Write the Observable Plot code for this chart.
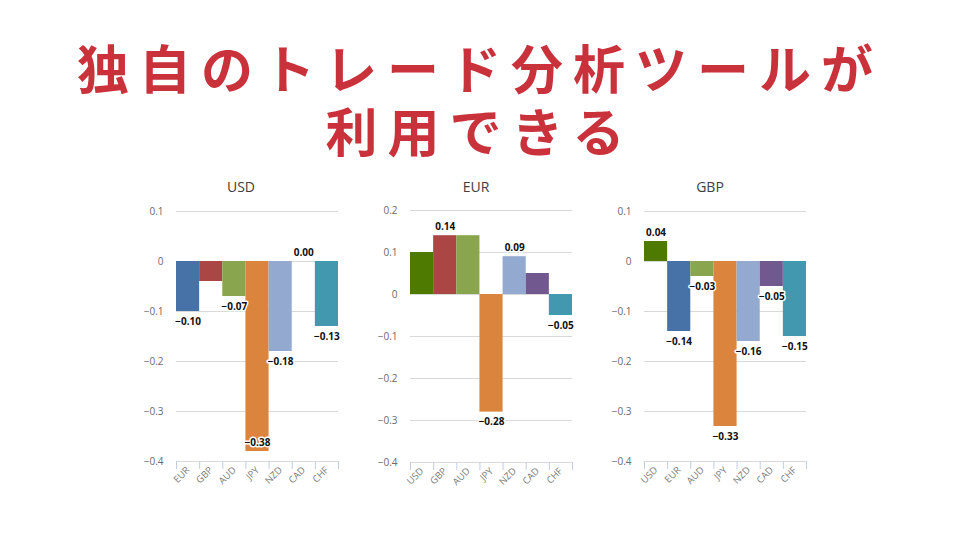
<!DOCTYPE html>
<html><head><meta charset="utf-8">
<script src="https://cdn.jsdelivr.net/npm/d3@7"></script>
<script src="https://cdn.jsdelivr.net/npm/@observablehq/plot@0.6"></script>
<style>
body{margin:0;width:960px;height:540px;background:#fff;position:relative;overflow:hidden;font-family:"Open Sans",sans-serif}
.title{position:absolute;left:0;width:960px;text-align:center;font-family:"Noto Sans CJK JP";font-weight:700;font-size:52px;line-height:52px;height:52px;letter-spacing:10px;color:#c9313b;margin:0;white-space:nowrap}
.chart{position:absolute}
.ctitle{position:absolute;width:242px;text-align:center;font-size:14px;line-height:18px;color:#404040}
</style></head><body>
<h1 class="title" style="top:41px">独自のトレード分析ツールが</h1>
<h1 class="title" style="top:104px">利用できる</h1>
<div class="ctitle" style="left:120px;top:178px">USD</div>
<div class="ctitle" style="left:355px;top:178px">EUR</div>
<div class="ctitle" style="left:589px;top:178px">GBP</div>
<div class="chart" id="c1" style="left:120px;top:200px"></div>
<div class="chart" id="c2" style="left:354px;top:199px"></div>
<div class="chart" id="c3" style="left:588px;top:200px"></div>
<script>
// ---- data ----
const usdCats = ["EUR","GBP","AUD","JPY","NZD","CAD","CHF"];
const usdValues = [-0.10,-0.04,-0.07,-0.38,-0.18,0.00,-0.13];
const usdShown = [true,false,true,true,true,true,true];

const eurCats = ["USD","GBP","AUD","JPY","NZD","CAD","CHF"];
const eurValues = [0.10,0.14,0.14,-0.28,0.09,0.05,-0.05];
const eurShown = [false,true,false,true,true,false,true];

const gbpCats = ["USD","EUR","AUD","JPY","NZD","CAD","CHF"];
const gbpValues = [0.04,-0.14,-0.03,-0.33,-0.16,-0.05,-0.15];
const gbpShown = [true,true,true,true,true,true,true];

const currencyColors = {USD:"#4f7a02",EUR:"#4672a8",GBP:"#aa4643",AUD:"#89a54e",JPY:"#db843d",NZD:"#93a9cf",CAD:"#71588f",CHF:"#4198af"};

const fmtY = v => Math.abs(v) < 1e-9 ? "0" : d3.format(".1f")(v);
const fmtV = d3.format(".2f");

function chart(cats, values, shown, yMax, plotH) {
  const data = cats.map((c,i)=>({cat:c, i, value:values[i], shown:shown[i]}));
  const ticks = d3.range(-4, Math.round(yMax*10)+1).map(k=>k/10);
  const mt=11, mb=40, ml=56, mr=7, w=225;
  const lab = data.filter(d=>d.shown);
  const textOpts = {x:d=>d.i+0.5, y:"value", text:d=>fmtV(d.value), fontSize:10, fontWeight:"bold", fill:"#111", stroke:"white", strokeWidth:3, paintOrder:"stroke"};
  return Plot.plot({
    width:w, height:mt+plotH+mb, marginTop:mt, marginBottom:mb, marginLeft:ml, marginRight:mr,
    x:{type:"linear", domain:[0,cats.length], axis:null},
    y:{domain:[-0.4,yMax], axis:null},
    color:{type:"identity"},
    style:{fontFamily:"'Open Sans', sans-serif", background:"transparent", overflow:"visible"},
    marks:[
      Plot.ruleY(ticks, {stroke:"#d9d9d9", strokeWidth:1}),
      Plot.rect(data, {x1:"i", x2:d=>d.i+1, y1:0, y2:"value", fill:d=>currencyColors[d.cat]}),
      Plot.axisY({ticks, tickSize:0, tickPadding:13, tickFormat:fmtY, fontSize:10, color:"#6b6b6b", label:null}),
      Plot.axisX({ticks:d3.range(cats.length+1), tickSize:8, tickFormat:()=>"", stroke:"#c3cde0", label:null}),
      Plot.axisX({ticks:d3.range(cats.length).map(i=>i+0.5), tickSize:0, tickPadding:7, tickRotate:-45, tickFormat:v=>cats[Math.floor(v)], fontSize:9.5, fill:"#7a7a7a", label:null}),
      Plot.text(lab.filter(d=>d.value>=0), {...textOpts, dy:-9}),
      Plot.text(lab.filter(d=>d.value<0 && d.value>=-0.35), {...textOpts, dy:10}),
      Plot.text(lab.filter(d=>d.value<-0.35), {...textOpts, dy:-9})
    ]
  });
}

document.getElementById("c1").append(chart(usdCats, usdValues, usdShown, 0.1, 250));
document.getElementById("c2").append(chart(eurCats, eurValues, eurShown, 0.2, 252));
document.getElementById("c3").append(chart(gbpCats, gbpValues, gbpShown, 0.1, 250));
</script>
</body></html>
